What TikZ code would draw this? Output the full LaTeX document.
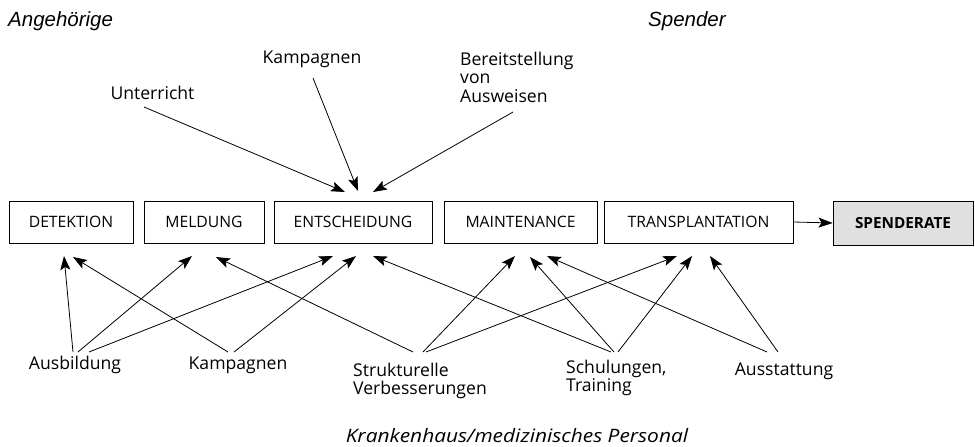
\documentclass[tikz,border=0pt]{standalone}
\usepackage{fontspec}
\setmainfont{Open Sans}
\newfontfamily\arialit{Liberation Sans}
\usetikzlibrary{arrows.meta}
\definecolor{boxgray}{RGB}{224,224,224}
\tikzset{
  stagebox/.style={draw=black, line width=0.9pt, minimum height=42pt, inner sep=0pt, font=\fontsize{15.7}{18}\selectfont},
  lbl/.style={inner sep=0pt, font=\fontsize{17.6}{18.5}\selectfont, align=left},
  conn/.style={line width=0.8pt, -{Stealth[length=14pt,width=10pt,inset=3pt]}},
  cornerlbl/.style={inner sep=0pt, anchor=west, font=\arialit\itshape\fontsize{20.5}{22}\selectfont},
}
\begin{document}
\begin{tikzpicture}[x=1pt,y=-1pt]
\useasboundingbox (0,0) rectangle (975,447);
% stage boxes
\node[stagebox, minimum width=124pt] (det) at (71,222) {DETEKTION};
\node[stagebox, minimum width=120pt] (mel) at (204,222) {MELDUNG};
\node[stagebox, minimum width=158pt] (ent) at (353,222) {ENTSCHEIDUNG};
\node[stagebox, minimum width=153pt] (mai) at (520.5,222) {MAINTENANCE};
\node[stagebox, minimum width=189pt] (tra) at (698.5,222) {TRANSPLANTATION};
\node[stagebox, minimum width=140pt, minimum height=44pt, fill=boxgray, font=\bfseries\fontsize{15.3}{17}\selectfont] (spe) at (903,223) {SPENDERATE};
\draw[conn] (tra.east) -- (spe.west);

% corner labels
\node[cornerlbl] (ang) at (8,21) {Angehörige};
\node[cornerlbl] (spd) at (648,21) {Spender};
\node[inner sep=0pt, font=\itshape\fontsize{18.5}{20}\selectfont] (kh) at (517,436) {\scalebox{1.13}[1]{Krankenhaus/medizinisches Personal}};

% top labels
\node[lbl] (kamtop) at (312,59) {Kampagnen};
\node[lbl] (unt) at (152.5,93) {Unterricht};
\node[lbl, anchor=west] (ber) at (460,77) {Bereitstellung\\von\\Ausweisen};

% bottom labels
\node[lbl] (ausb) at (75,365) {Ausbildung};
\node[lbl] (kamb) at (238,365) {Kampagnen};
\node[lbl, anchor=west] (struk) at (353,381) {Strukturelle\\Verbesserungen};
\node[lbl, anchor=west] (schul) at (566,378) {Schulungen,\\Training};
\node[lbl] (aust) at (784,371) {Ausstattung};

% top arrow ends
\coordinate (unt-s) at (144,107);
\coordinate (kamtop-s) at (313,78);
\coordinate (ber-s) at (513,112);
\coordinate (ent-t1) at (345,192);
\coordinate (ent-t2) at (358,191);
\coordinate (ent-t3) at (373,192);
\draw[conn] (unt-s) -- (ent-t1);
\draw[conn] (kamtop-s) -- (ent-t2);
\draw[conn] (ber-s) -- (ent-t3);

% bottom arrow starts
\coordinate (ausb-1) at (73,352);
\coordinate (ausb-2) at (78,352);
\coordinate (ausb-3) at (89,352);
\coordinate (kamb-1) at (228,352);
\coordinate (kamb-2) at (234,352);
\coordinate (struk-1) at (413,352);
\coordinate (struk-2) at (423,352);
\coordinate (struk-3) at (426,352);
\coordinate (schul-1) at (611,352);
\coordinate (schul-2) at (614,352);
\coordinate (schul-3) at (618,352);
\coordinate (aust-1) at (767,352);
\coordinate (aust-2) at (778,352);
% bottom arrow tips
\coordinate (det-b1) at (64,256);
\coordinate (det-b2) at (73,257);
\coordinate (mel-b1) at (192,256);
\coordinate (mel-b2) at (216,257);
\coordinate (ent-b1) at (333,256);
\coordinate (ent-b2) at (356,256);
\coordinate (ent-b3) at (373,256);
\coordinate (mai-b1) at (515,256);
\coordinate (mai-b2) at (530,257);
\coordinate (mai-b3) at (547,256);
\coordinate (tra-b1) at (677,256);
\coordinate (tra-b2) at (692,256);
\coordinate (tra-b3) at (710,256);

\draw[conn] (ausb-1) -- (det-b1);
\draw[conn] (kamb-1) -- (det-b2);
\draw[conn] (ausb-2) -- (mel-b1);
\draw[conn] (struk-1) -- (mel-b2);
\draw[conn] (ausb-3) -- (ent-b1);
\draw[conn] (kamb-2) -- (ent-b2);
\draw[conn] (schul-1) -- (ent-b3);
\draw[conn] (struk-2) -- (mai-b1);
\draw[conn] (schul-2) -- (mai-b2);
\draw[conn] (aust-1) -- (mai-b3);
\draw[conn] (struk-3) -- (tra-b1);
\draw[conn] (schul-3) -- (tra-b2);
\draw[conn] (aust-2) -- (tra-b3);
\end{tikzpicture}
\end{document}
